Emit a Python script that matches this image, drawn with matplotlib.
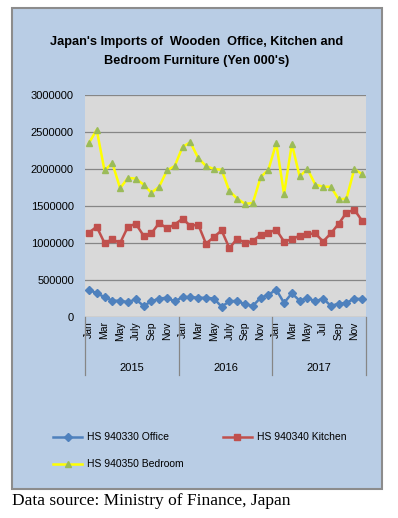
import matplotlib.pyplot as plt
from matplotlib.patches import Rectangle
from matplotlib.transforms import blended_transform_factory

# Monthly values, Jan 2015 - Dec 2017 (Yen 000's)
months = ['Jan', 'Feb', 'Mar', 'Apr', 'May', 'Jun', 'Jul', 'Aug', 'Sep', 'Oct', 'Nov', 'Dec']
years = ['2015', '2016', '2017']
tick_labels = ['Jan', 'Mar', 'May', 'July', 'Sep', 'Nov',
               'Jan', 'Mar', 'May', 'July', 'Sep', 'Nov',
               'Jan', 'Mar', 'May', 'Jul', 'Sep', 'Nov']

office = [370000, 320000, 270000, 220000, 220000, 200000, 240000, 150000, 210000, 250000, 260000, 210000,
          270000, 270000, 260000, 260000, 250000, 140000, 210000, 220000, 170000, 150000, 260000, 300000,
          370000, 190000, 320000, 220000, 260000, 210000, 250000, 150000, 180000, 190000, 250000, 240000]
kitchen = [1140000, 1220000, 1000000, 1050000, 1000000, 1220000, 1260000, 1100000, 1130000, 1270000, 1200000, 1250000,
           1330000, 1230000, 1250000, 990000, 1080000, 1170000, 930000, 1060000, 1000000, 1030000, 1110000, 1140000,
           1180000, 1020000, 1050000, 1100000, 1120000, 1130000, 1020000, 1130000, 1260000, 1410000, 1450000, 1300000]
bedroom = [2350000, 2530000, 1980000, 2080000, 1740000, 1880000, 1870000, 1790000, 1680000, 1760000, 1980000, 2040000,
           2300000, 2360000, 2150000, 2040000, 2000000, 1990000, 1700000, 1600000, 1530000, 1540000, 1890000, 1990000,
           2350000, 1660000, 2340000, 1900000, 2000000, 1790000, 1760000, 1760000, 1590000, 1600000, 2000000, 1930000]

W, H = 398, 518
FONT = ['Liberation Sans', 'DejaVu Sans']
fig = plt.figure(figsize=(W / 100, H / 100), dpi=100)
fig.patch.set_facecolor('white')

# blue chart panel
fig.patches.append(Rectangle((12 / W, 1 - 489 / H), 370 / W, 481 / H, transform=fig.transFigure,
                             facecolor='#b9cde5', edgecolor='#8c8c8c', linewidth=1.5, zorder=-5))

fig.text(197 / W, 1 - 42 / H, "Japan's Imports of  Wooden  Office, Kitchen and",
         ha='center', va='center', fontsize=9.2, fontweight='bold', family=FONT)
fig.text(197 / W, 1 - 61 / H, "Bedroom Furniture (Yen 000's)",
         ha='center', va='center', fontsize=9.2, fontweight='bold', family=FONT)

ax = fig.add_axes([85 / W, 1 - 317 / H, 281 / W, 222 / H])
ax.set_zorder(2)
ax.set_facecolor('#d9d9d9')

x = list(range(len(office)))
ax.plot(x, office, color='#4f81bd', lw=1.8, marker='D', ms=4.5, mfc='#4f81bd', mec='#4f81bd',
        label='HS 940330 Office', zorder=3)
ax.plot(x, kitchen, color='#c0504d', lw=1.8, marker='s', ms=4.5, mfc='#c0504d', mec='#c0504d',
        label='HS 940340 Kitchen', zorder=3)
ax.plot(x, bedroom, color='#ffff00', lw=1.8, marker='^', ms=5, mfc='#9bbb59', mec='#9bbb59',
        label='HS 940350 Bedroom', zorder=3)

ax.set_xlim(-0.5, len(x) - 0.5)
ax.set_ylim(0, 3000000)
ax.set_yticks(range(0, 3000001, 500000))
ax.set_yticklabels([str(v) for v in range(0, 3000001, 500000)], fontsize=8, family=FONT)
ax.grid(axis='y', color='#868686', lw=0.9)
ax.set_axisbelow(True)
for s in ax.spines.values():
    s.set_visible(False)
ax.tick_params(axis='y', length=0, pad=8)

ax.set_xticks(range(0, len(x), 2))
ax.set_xticklabels(tick_labels, rotation=90, fontsize=7.5, family=FONT)
ax.tick_params(axis='x', length=0, pad=3)

# year grouping lines and labels under the month labels
tr = blended_transform_factory(ax.transData, ax.transAxes)
for b in [-0.5, 11.5, 23.5, 35.5]:
    ax.plot([b, b], [0, -58 / 222], color='#868686', lw=0.9, transform=tr, clip_on=False)
for i, yr in enumerate(years):
    ax.text(i * 12 + 5.5, -51 / 222, yr, transform=tr, ha='center', va='center', fontsize=8, family=FONT)

handles, labels = ax.get_legend_handles_labels()
pos = [(53, 437), (223, 437), (53, 464)]
for h, lab, (px, py) in zip(handles, labels, pos):
    fig.add_artist(plt.Line2D([px / W, (px + 29) / W], [1 - py / H, 1 - py / H], transform=fig.transFigure,
                              color=h.get_color(), lw=1.8))
    fig.add_artist(plt.Line2D([(px + 14.5) / W], [1 - py / H], transform=fig.transFigure,
                              marker=h.get_marker(), ms=h.get_markersize(), mfc=h.get_mfc(), mec=h.get_mec(), lw=0))
    fig.text((px + 34) / W, 1 - py / H, lab, ha='left', va='center', fontsize=7.5, family=FONT)

fig.text(12 / W, 1 - 501 / H, 'Data source: Ministry of Finance, Japan', ha='left', va='center',
         fontsize=12.5, family=['Liberation Serif', 'DejaVu Serif'])

fig.savefig('out.png', dpi=100)
